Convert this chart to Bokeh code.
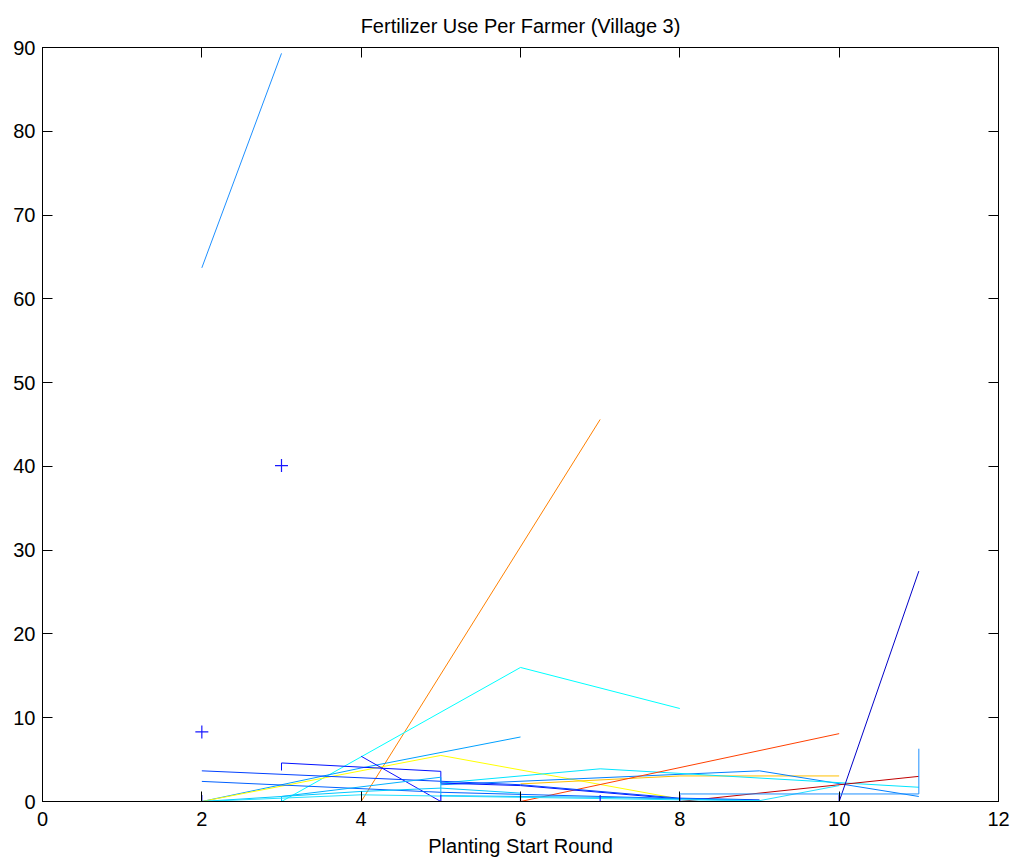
from bokeh.plotting import figure
from bokeh.models import Range1d, LinearAxis, FixedTicker, Title
from bokeh.embed import file_html
from bokeh.resources import INLINE

# ---- data ----
title_text = "Fertilizer Use Per Farmer (Village 3)"
x_label = "Planting Start Round"
x_ticks = [0, 2, 4, 6, 8, 10, 12]
y_ticks = [0, 10, 20, 30, 40, 50, 60, 70, 80, 90]

f01_x = [2, 3];              f01_y = [63.7, 89.3]
f02_x = [2, 4];              f02_y = [0, 0]
f03_x = [4, 7];              f03_y = [0, 45.6]
f04_x = [3, 6, 8];           f04_y = [0, 16.0, 11.1]
f05_x = [2, 4, 6];           f05_y = [0, 4.0, 7.7]
f06_x = [2, 5, 8];           f06_y = [0, 5.5, 0.3]
f07_x = [6, 8, 10];          f07_y = [2.1, 3.05, 3.05]
f08_x = [5, 9, 11];          f08_y = [2.0, 3.66, 0.6]
f09_x = [5, 7, 11];          f09_y = [2.2, 3.9, 1.7]
f10_x = [6, 10];             f10_y = [0, 8.1]
f11_x = [8, 11];             f11_y = [0, 3.0]
f12_x = [10, 11];            f12_y = [0, 27.5]
f13_x = [4, 5];              f13_y = [5.4, 0]
f14_x = [3, 3, 5, 5, 6, 8];  f14_y = [3.7, 4.6, 3.6, 2.2, 1.9, 0.3]
f15_x = [2, 6, 8, 9];        f15_y = [3.66, 2.0, 0.4, 0.2]
f16_x = [2, 5, 7, 9];        f16_y = [2.4, 1.1, 0.6, 0.1]
f17_x = [3, 3, 5, 5, 7, 9];  f17_y = [0, 0.6, 2.9, 0.7, 0.5, 0.1]
f18_x = [2, 4, 5, 6];        f18_y = [0, 1.2, 1.6, 1.0]
f19_x = [2, 4, 6, 8, 9, 10]; f19_y = [0, 0.8, 0.5, 0.2, 0.1, 1.9]
f20_x = [8, 11, 11];         f20_y = [0.9, 0.9, 6.3]
f21_x = [4, 6];              f21_y = [0, 0]
f22_x = [6, 11];             f22_y = [0, 0]

series_x = [f01_x, f02_x, f03_x, f04_x, f05_x, f06_x, f07_x, f08_x, f09_x, f10_x, f11_x,
            f12_x, f13_x, f14_x, f15_x, f16_x, f17_x, f18_x, f19_x, f20_x, f21_x, f22_x]
series_y = [f01_y, f02_y, f03_y, f04_y, f05_y, f06_y, f07_y, f08_y, f09_y, f10_y, f11_y,
            f12_y, f13_y, f14_y, f15_y, f16_y, f17_y, f18_y, f19_y, f20_y, f21_y, f22_y]
series_colors = ["#1E90FF", "#FF2000", "#FF8000", "#00FFFF", "#00A0FF", "#FFFF00", "#FFBF00",
                 "#0080FF", "#00E5FF", "#FF4000", "#C00000", "#0000C8", "#1010FF", "#0010FF",
                 "#0040FF", "#0060FF", "#00B0FF", "#00C8FF", "#20E0FF", "#1E90FF", "#000080",
                 "#2040FF"]

single_x = [2, 3, 2, 5, 6, 7, 8, 10]
single_y = [8.3, 40.1, 0, 0, 0, 0, 0, 0]

FONT = "Liberation Sans"

p = figure(width=1010, height=859, x_range=Range1d(0, 12), y_range=Range1d(0, 90),
           output_backend="svg", toolbar_location=None, title=None,
           min_border_left=42, min_border_right=12, min_border_top=47, min_border_bottom=58)
p.grid.visible = False
p.outline_line_color = "black"
p.background_fill_color = "white"
p.border_fill_color = "white"

for xs, ys, c in zip(series_x, series_y, series_colors):
    p.line(xs, ys, line_color=c, line_width=1)

for sx, sy in zip(single_x, single_y):
    p.scatter([sx], [sy], marker="cross", size=13, line_color="#1818FF",
              fill_color="#1818FF", line_width=1.2)

bottom_axis = p.below[0]
left_axis = p.left[0]
top_axis = LinearAxis()
right_axis = LinearAxis()
p.add_layout(top_axis, "above")
p.add_layout(right_axis, "right")

for ax in [bottom_axis, top_axis]:
    ax.ticker = FixedTicker(ticks=x_ticks)
for ax in [left_axis, right_axis]:
    ax.ticker = FixedTicker(ticks=y_ticks)

for ax in [bottom_axis, left_axis, top_axis, right_axis]:
    ax.axis_line_color = "black"
    ax.axis_line_width = 1
    ax.major_tick_in = 10
    ax.major_tick_out = 0
    ax.major_tick_line_color = "black"
    ax.minor_tick_line_color = None
    ax.major_label_text_font = FONT
    ax.major_label_text_font_size = "20px"
    ax.major_label_text_color = "black"

for ax in [top_axis, right_axis]:
    ax.major_label_text_color = None
    ax.major_label_text_font_size = "1px"
    ax.major_label_standoff = 0

bottom_axis.major_label_standoff = 10
left_axis.major_label_standoff = 7
bottom_axis.axis_label = x_label
bottom_axis.axis_label_text_font = FONT
bottom_axis.axis_label_text_font_size = "20px"
bottom_axis.axis_label_text_font_style = "normal"
bottom_axis.axis_label_text_color = "black"
bottom_axis.axis_label_standoff = 6

p.add_layout(Title(text=title_text, align="center", text_font=FONT, text_font_size="20px",
                   text_font_style="normal", text_color="black", standoff=21), "above")

open("out.html", "w").write(file_html(p, INLINE))
